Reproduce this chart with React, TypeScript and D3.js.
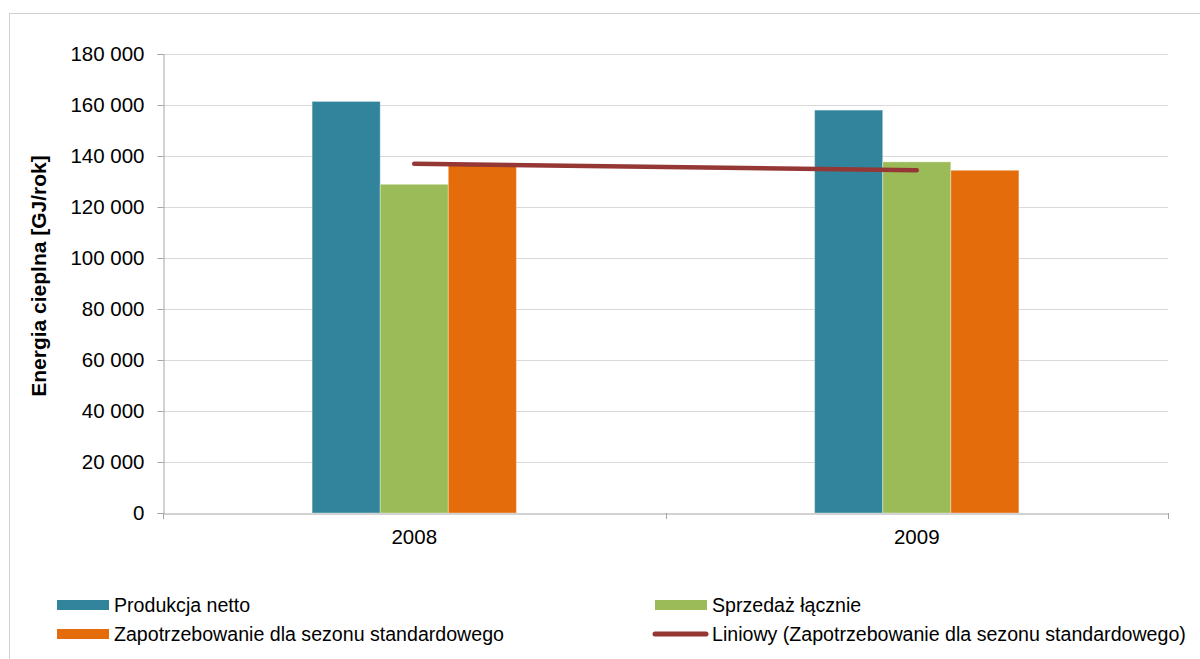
import * as d3 from "d3";
import { useEffect, useRef } from "react";

const years = ["2008", "2009"];
const seriesNames = [
  "Produkcja netto",
  "Sprzedaż łącznie",
  "Zapotrzebowanie dla sezonu standardowego",
];
const produkcja = [161400, 158000];
const sprzedaz = [128900, 137700];
const zapotrzebowanie = [137000, 134400];
const yTicks = [0, 20000, 40000, 60000, 80000, 100000, 120000, 140000, 160000, 180000];
const trendName = "Liniowy (Zapotrzebowanie dla sezonu standardowego)";

const colors = ["#31849B", "#9BBB59", "#E46C0A"];
const trendColor = "#953735";
const font = "Arial, 'Liberation Sans', sans-serif";

const App = () => {
  const ref = useRef<SVGSVGElement>(null);

  useEffect(() => {
    const W = 1200,
      H = 659;
    const margin = { top: 54, left: 163, right: 32, bottom: 146 };
    const width = W - margin.left - margin.right;
    const height = H - margin.top - margin.bottom;

    const svg = d3.select(ref.current);
    svg.selectAll("*").remove();

    // outer frame
    svg
      .append("rect")
      .attr("x", 9.5)
      .attr("y", 13.5)
      .attr("width", 1200)
      .attr("height", 700)
      .attr("fill", "#fff")
      .attr("stroke", "#d0d0d0");

    const g = svg
      .append("g")
      .attr("transform", `translate(${margin.left},${margin.top})`);

    const x0 = d3.scaleBand().domain(years).range([0, width]);
    const x1 = d3
      .scaleBand()
      .domain(seriesNames)
      .range([0, x0.bandwidth()])
      .paddingInner(0)
      .paddingOuter(2.19);
    const y = d3.scaleLinear().domain([0, 180000]).range([height, 0]);

    const fmt = d3.formatLocale({
      decimal: ",",
      thousands: " ",
      grouping: [3],
      currency: ["", ""],
    }).format(",d");

    // gridlines
    g.append("g")
      .selectAll("line")
      .data(yTicks.filter((d) => d > 0))
      .join("line")
      .attr("x1", 0)
      .attr("x2", width)
      .attr("y1", (d) => Math.round(y(d)) + 0.5)
      .attr("y2", (d) => Math.round(y(d)) + 0.5)
      .attr("stroke", "#d9d9d9")
      .attr("stroke-width", 1.2);

    // y axis
    const yAxis = g
      .append("g")
      .attr("transform", "translate(0.5,0)")
      .call(d3.axisLeft(y).tickValues(yTicks).tickSize(6).tickPadding(13).tickFormat((d) => fmt(d as number)));
    yAxis.select(".domain").attr("stroke", "#a6a6a6");
    yAxis.selectAll(".tick line").attr("stroke", "#a6a6a6");
    yAxis
      .selectAll("text")
      .attr("font-family", font)
      .attr("font-size", 20.5)
      .attr("fill", "#000");

    const data = years.map((yr, i) => ({
      year: yr,
      values: [produkcja[i], sprzedaz[i], zapotrzebowanie[i]],
    }));

    // bars
    g.append("g")
      .selectAll("g")
      .data(data)
      .join("g")
      .attr("transform", (d) => `translate(${x0(d.year)},0)`)
      .selectAll("rect")
      .data((d) => d.values.map((v, j) => ({ v, name: seriesNames[j], c: colors[j] })))
      .join("rect")
      .attr("x", (d) => x1(d.name)!)
      .attr("y", (d) => y(d.v))
      .attr("width", x1.bandwidth())
      .attr("height", (d) => height - y(d.v))
      .attr("fill", (d) => d.c)
      .attr("stroke", "rgba(255,255,255,0.35)")
      .attr("stroke-width", 1);

    // x axis
    const xAxis = g
      .append("g")
      .attr("transform", `translate(0,${height + 0.5})`)
      .call(d3.axisBottom(x0).tickSize(0).tickPadding(16));
    xAxis.select(".domain").attr("stroke", "#a6a6a6");
    xAxis
      .selectAll("text")
      .attr("font-family", font)
      .attr("font-size", 20.5)
      .attr("fill", "#000");
    g.append("g")
      .selectAll("line")
      .data([0, 1, 2])
      .join("line")
      .attr("x1", (d) => Math.round(d * x0.step()) + 0.5)
      .attr("x2", (d) => Math.round(d * x0.step()) + 0.5)
      .attr("y1", height)
      .attr("y2", height + 6)
      .attr("stroke", "#a6a6a6");

    // linear trend of demand series
    const xs = years.map((_, i) => i + 1);
    const mx = d3.mean(xs)!;
    const my = d3.mean(zapotrzebowanie)!;
    const slope =
      d3.sum(xs.map((xi, i) => (xi - mx) * (zapotrzebowanie[i] - my))) /
      d3.sum(xs.map((xi) => (xi - mx) ** 2));
    const icpt = my - slope * mx;
    const trend = years.map((yr, i) => ({
      x: x0(yr)! + x0.bandwidth() / 2,
      v: icpt + slope * xs[i],
    }));
    g.append("path")
      .datum(trend)
      .attr(
        "d",
        d3
          .line<{ x: number; v: number }>()
          .x((d) => d.x)
          .y((d) => y(d.v))
      )
      .attr("fill", "none")
      .attr("stroke", trendColor)
      .attr("stroke-width", 4.5)
      .attr("stroke-linecap", "round");

    // y title
    svg
      .append("text")
      .attr("transform", `translate(46,276) rotate(-90)`)
      .attr("text-anchor", "middle")
      .attr("font-family", font)
      .attr("font-weight", "bold")
      .attr("font-size", 21)
      .text("Energia cieplna [GJ/rok]");

    // legend
    const legendItems = [
      { name: seriesNames[0], c: colors[0], x: 57, y: 605, line: false },
      { name: seriesNames[1], c: colors[1], x: 655, y: 605, line: false },
      { name: seriesNames[2], c: colors[2], x: 57, y: 634, line: false },
      { name: trendName, c: trendColor, x: 655, y: 634, line: true },
    ];
    const lg = svg
      .append("g")
      .selectAll("g")
      .data(legendItems)
      .join("g")
      .attr("transform", (d) => `translate(${d.x},${d.y})`);
    lg.filter((d) => !d.line)
      .append("rect")
      .attr("x", 0)
      .attr("y", -5)
      .attr("width", 52)
      .attr("height", 10)
      .attr("fill", (d) => d.c);
    lg.filter((d) => d.line)
      .append("line")
      .attr("x1", 0)
      .attr("x2", 51)
      .attr("y1", 0)
      .attr("y2", 0)
      .attr("stroke", (d) => d.c)
      .attr("stroke-width", 5)
      .attr("stroke-linecap", "round");
    lg.append("text")
      .attr("x", 57)
      .attr("y", 0)
      .attr("dy", "0.35em")
      .attr("font-family", font)
      .attr("font-size", 19.6)
      .text((d) => d.name);
  }, []);

  return (
    <svg
      ref={ref}
      width={1200}
      height={659}
      style={{ position: "absolute", left: 0, top: 0, background: "#fff" }}
    />
  );
};

export default App;
